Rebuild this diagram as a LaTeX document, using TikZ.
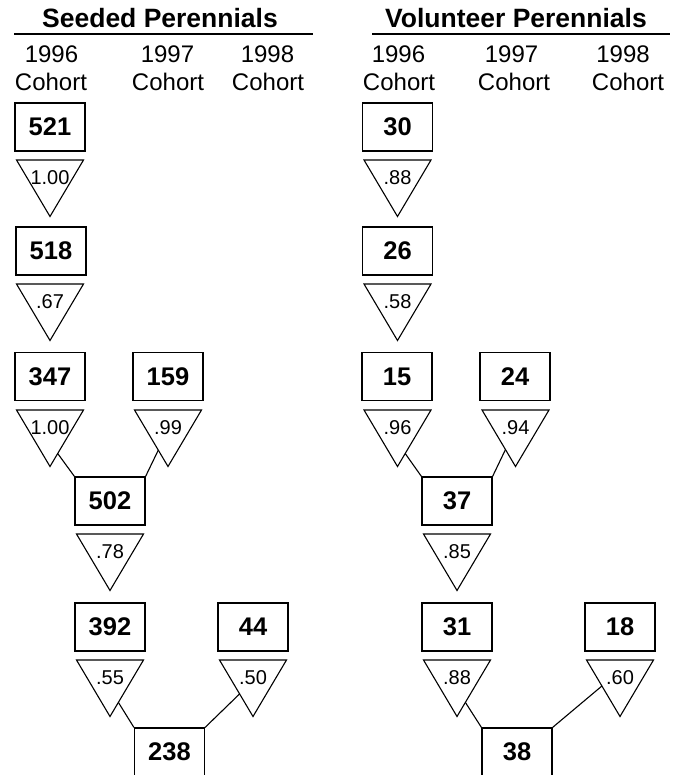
\documentclass[tikz,border=0pt]{standalone}
\usepackage{fontspec}
\setmainfont{Liberation Sans}
\usetikzlibrary{calc}
\tikzset{
  numbox/.style={draw, line width=1.2pt, minimum width=70pt, minimum height=48pt, inner sep=0pt,
    font=\bfseries\fontsize{25.5}{25.5}\selectfont},
  triline/.style={draw, line width=1.1pt, line join=miter},
  trilabel/.style={inner sep=0pt, font=\fontsize{20}{20}\selectfont},
  conn/.style={draw, line width=1.1pt},
  titletext/.style={anchor=base, inner sep=0pt, font=\bfseries\fontsize{26.5}{26.5}\selectfont},
  yeartext/.style={anchor=base, inner sep=0pt, font=\fontsize{24}{24}\selectfont},
  rule/.style={draw, line width=1.5pt}
}
\newcommand{\survtri}[4]{%
  \coordinate (#1-l) at (#2-33.5,#3);
  \coordinate (#1-r) at (#2+33.5,#3);
  \coordinate (#1-a) at (#2,#3+56.5);
  \draw[triline] (#1-l) -- (#1-r) -- (#1-a) -- cycle;
  \node[trilabel] (#1-t) at (#2,#3+17.5) {#4};
}
\begin{document}
\begin{tikzpicture}[x=1pt,y=-1pt]
\useasboundingbox (0,0) rectangle (679,775);

% ---------- Seeded Perennials ----------
\node[titletext] (stitle) at (160,28) {Seeded Perennials};
\coordinate (sruleL) at (14,34);
\coordinate (sruleR) at (313,34);
\draw[rule] (sruleL) -- (sruleR);
\node[yeartext] (sy1) at (51.5,63) {1996};
\node[yeartext] (sc1) at (51,91) {Cohort};
\node[yeartext] (sy2) at (167.5,63) {1997};
\node[yeartext] (sc2) at (168,91) {Cohort};
\node[yeartext] (sy3) at (267.5,63) {1998};
\node[yeartext] (sc3) at (268,91) {Cohort};

\node[numbox] (b521) at (50,127) {521};
\survtri{t521}{50}{160}{1.00}
\node[numbox] (b518) at (51,251) {518};
\survtri{t518}{50}{284}{.67}
\node[numbox] (b347) at (50,376.5) {347};
\node[numbox] (b159) at (168,376.5) {159};
\survtri{t347}{50}{410}{1.00}
\survtri{t159}{168}{410}{.99}
\node[numbox] (b502) at (110,501) {502};
\survtri{t502}{110}{534}{.78}
\node[numbox] (b392) at (110,627) {392};
\node[numbox] (b44) at (253,627) {44};
\survtri{t392}{110}{660}{.55}
\survtri{t44}{253}{660}{.50}
\node[numbox] (b238) at (169.5,752) {238};

\draw[conn] ($(t347-r)!0.77!(t347-a)$) -- (b502.north west);
\draw[conn] ($(t159-l)!0.71!(t159-a)$) -- (b502.north east);
\draw[conn] ($(t392-r)!0.75!(t392-a)$) -- (b238.north west);
\draw[conn] ($(t44-l)!0.6!(t44-a)$) -- (b238.north east);

% ---------- Volunteer Perennials ----------
\node[titletext] (vtitle) at (516,28) {Volunteer Perennials};
\coordinate (vruleL) at (372,34);
\coordinate (vruleR) at (670,34);
\draw[rule] (vruleL) -- (vruleR);
\node[yeartext] (vy1) at (398.5,63) {1996};
\node[yeartext] (vc1) at (399,91) {Cohort};
\node[yeartext] (vy2) at (511.5,63) {1997};
\node[yeartext] (vc2) at (514,91) {Cohort};
\node[yeartext] (vy3) at (623,63) {1998};
\node[yeartext] (vc3) at (628,91) {Cohort};

\node[numbox] (b30) at (397.5,127) {30};
\survtri{t30}{397.5}{160}{.88}
\node[numbox] (b26) at (397.5,251) {26};
\survtri{t26}{397.5}{284}{.58}
\node[numbox] (b15) at (397,376.5) {15};
\node[numbox] (b24) at (515,376.5) {24};
\survtri{t15}{397.5}{410}{.96}
\survtri{t24}{515.5}{410}{.94}
\node[numbox] (b37) at (457,501) {37};
\survtri{t37}{457}{534}{.85}
\node[numbox] (b31) at (457,627) {31};
\node[numbox] (b18) at (620,627) {18};
\survtri{t31}{457}{660}{.88}
\survtri{t18}{620}{660}{.60}
\node[numbox] (b38) at (517,752) {38};

\draw[conn] ($(t15-r)!0.77!(t15-a)$) -- (b37.north west);
\draw[conn] ($(t24-l)!0.7!(t24-a)$) -- (b37.north east);
\draw[conn] ($(t31-r)!0.75!(t31-a)$) -- (b38.north west);
\draw[conn] ($(t18-l)!0.46!(t18-a)$) -- (b38.north east);
\end{tikzpicture}
\end{document}
